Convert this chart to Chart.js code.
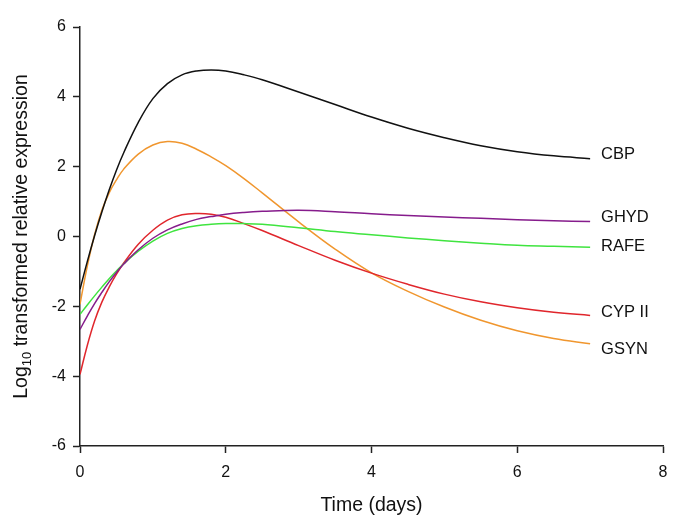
<!DOCTYPE html>
<html>
<head>
<meta charset="utf-8">
<script src="https://cdn.jsdelivr.net/npm/chart.js@4.4.1/dist/chart.umd.min.js"></script>
<style>
  html, body { margin: 0; padding: 0; background: #fff; }
  #wrap { width: 685px; height: 521px; position: relative; }
</style>
</head>
<body>
<div id="wrap"><canvas id="expr"></canvas></div>
<script>
const days = [0, 0.1, 0.2, 0.3, 0.4, 0.5, 0.6, 0.8, 1.0, 1.2, 1.4, 1.6, 1.8, 2.0, 2.25, 2.5, 3, 3.5, 4, 4.5, 5, 5.5, 6, 6.5, 7];

const cbp  = [-1.51, -0.72, 0.02, 0.7, 1.33, 1.9, 2.4, 3.27, 3.95, 4.38, 4.63, 4.74, 4.77, 4.74, 4.63, 4.49, 4.14, 3.78, 3.42, 3.1, 2.83, 2.6, 2.43, 2.31, 2.23];
const ghyd = [-2.66, -2.28, -1.92, -1.6, -1.3, -1.03, -0.79, -0.38, -0.05, 0.19, 0.36, 0.49, 0.57, 0.64, 0.69, 0.72, 0.75, 0.71, 0.65, 0.6, 0.56, 0.52, 0.48, 0.45, 0.43];
const rafe = [-2.23, -1.96, -1.7, -1.45, -1.21, -0.99, -0.78, -0.42, -0.13, 0.09, 0.23, 0.31, 0.35, 0.37, 0.37, 0.35, 0.25, 0.14, 0.05, -0.04, -0.12, -0.19, -0.25, -0.28, -0.31];
const cyp2 = [-3.95, -3.12, -2.42, -1.88, -1.45, -1.08, -0.76, -0.22, 0.18, 0.47, 0.62, 0.66, 0.64, 0.55, 0.37, 0.17, -0.26, -0.68, -1.05, -1.37, -1.65, -1.87, -2.04, -2.17, -2.26];
const gsyn = [-1.94, -0.85, 0.05, 0.75, 1.25, 1.62, 1.93, 2.36, 2.62, 2.72, 2.67, 2.5, 2.28, 2.03, 1.66, 1.25, 0.42, -0.36, -1.04, -1.57, -2.02, -2.4, -2.7, -2.92, -3.07];

const seriesNames = ["CBP", "GHYD", "RAFE", "CYP II", "GSYN"];
const labelY = [2.34, 0.54, -0.29, -2.17, -3.23];

const colors = ["#111111", "#861c8c", "#3fe43f", "#e0262c", "#f0962e"];
const FONT = "'Liberation Sans', Arial, sans-serif";

const allSeries = [cbp, ghyd, rafe, cyp2, gsyn];
const datasets = allSeries.map((vals, i) => ({
  label: seriesNames[i],
  data: vals.map((v, j) => ({ x: days[j], y: v })),
  borderColor: colors[i],
  borderWidth: 1.5,
  pointRadius: 0,
  tension: 0.4,
  fill: false,
}));

// names at the right-hand end of each curve
const endLabels = {
  id: "endLabels",
  afterDatasetsDraw(chart) {
    const { ctx, scales } = chart;
    ctx.save();
    ctx.font = "16.5px " + FONT;
    ctx.fillStyle = "#111";
    ctx.textBaseline = "middle";
    ctx.textAlign = "left";
    seriesNames.forEach((name, i) => {
      ctx.fillText(name, scales.x.getPixelForValue(7.15), scales.y.getPixelForValue(labelY[i]));
    });
    ctx.restore();
  },
};

// rotated y title with subscript "10"
const yTitle = {
  id: "yTitle",
  afterDraw(chart) {
    const { ctx, chartArea } = chart;
    const big = "19.5px " + FONT;
    const small = "13px " + FONT;
    const p1 = "Log", p2 = "10", p3 = " transformed relative expression";
    ctx.save();
    ctx.font = big;
    const w1 = ctx.measureText(p1).width;
    const w3 = ctx.measureText(p3).width;
    ctx.font = small;
    const w2 = ctx.measureText(p2).width;
    const total = w1 + w2 + w3;
    const cy = (chartArea.top + chartArea.bottom) / 2;
    ctx.translate(27, cy);
    ctx.rotate(-Math.PI / 2);
    ctx.fillStyle = "#111";
    ctx.textBaseline = "alphabetic";
    ctx.textAlign = "left";
    let x = -total / 2;
    ctx.font = big;
    ctx.fillText(p1, x, 0);
    x += w1;
    ctx.font = small;
    ctx.fillText(p2, x, 4);
    x += w2;
    ctx.font = big;
    ctx.fillText(p3, x, 0);
    ctx.restore();
  },
};

new Chart(document.getElementById("expr"), {
  type: "line",
  data: { datasets },
  plugins: [endLabels, yTitle],
  options: {
    responsive: true,
    maintainAspectRatio: false,
    animation: false,
    layout: { padding: { top: 27, right: 22, left: 0, bottom: 0 } },
    plugins: { legend: { display: false }, tooltip: { enabled: false } },
    scales: {
      x: {
        type: "linear",
        min: 0,
        max: 8,
        afterFit(scale) { scale.height = 75; },
        ticks: { stepSize: 2, color: "#111", padding: 10, font: { family: FONT, size: 16 } },
        grid: { drawOnChartArea: false, drawTicks: true, tickLength: 7, tickColor: "#222", tickWidth: 1.5 },
        border: { display: true, color: "#222", width: 1.5 },
        title: {
          display: true,
          text: "Time (days)",
          color: "#111",
          font: { family: FONT, size: 19.5 },
          padding: { top: 10 },
        },
      },
      y: {
        min: -6,
        max: 6,
        afterFit(scale) { scale.width = 80; },
        ticks: { stepSize: 2, color: "#111", padding: 7, font: { family: FONT, size: 16 } },
        grid: { drawOnChartArea: false, drawTicks: true, tickLength: 7, tickColor: "#222", tickWidth: 1.5 },
        border: { display: true, color: "#222", width: 1.5 },
      },
    },
  },
});
</script>
</body>
</html>
